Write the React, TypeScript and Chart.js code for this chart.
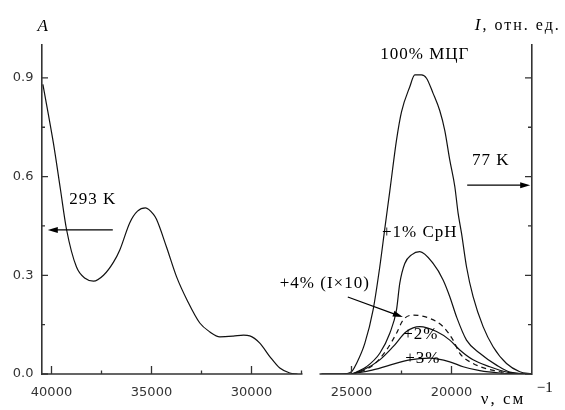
import React, { useEffect, useRef } from 'react';
import { Chart, registerables } from 'chart.js';

Chart.register(...registerables);

// ---- data (x: wavenumber, cm^-1; y: A or I) ----
const ABS_X = [40430, 39900, 39550, 39250, 38750, 38300, 37900, 37400, 36900, 36585, 36085, 35700, 35300, 34900, 34750, 34250, 33750, 33200, 32585, 32085, 31585, 30915, 30400, 30085, 29585, 29085, 28585, 28085, 27700];
const ABS_Y = [0.880, 0.700, 0.560, 0.440, 0.325, 0.290, 0.282, 0.300, 0.340, 0.377, 0.460, 0.495, 0.505, 0.485, 0.470, 0.386, 0.296, 0.222, 0.155, 0.128, 0.113, 0.115, 0.118, 0.116, 0.094, 0.053, 0.018, 0.003, 0.0];

const E100_X = [26500, 25500, 25000, 24750, 24335, 23920, 23585, 23335, 23085, 22750, 22500, 22085, 21835, 21500, 21250, 20920, 20585, 20335, 20085, 19835, 19670, 19500, 19250, 18920, 18420, 17920, 17250, 16585, 16000];
const E100_Y = [0, 0, 0.007, 0.032, 0.093, 0.195, 0.326, 0.442, 0.556, 0.711, 0.797, 0.873, 0.909, 0.909, 0.899, 0.853, 0.800, 0.740, 0.650, 0.570, 0.489, 0.428, 0.326, 0.235, 0.144, 0.083, 0.032, 0.007, 0];

const E1_X = [26500, 25000, 24750, 24250, 23585, 23085, 22750, 22585, 22335, 22000, 21585, 20920, 20420, 20085, 19750, 19250, 18585, 17750, 17085, 16000];
const E1_Y = [0, 0, 0.006, 0.022, 0.063, 0.124, 0.195, 0.276, 0.336, 0.362, 0.372, 0.336, 0.286, 0.235, 0.174, 0.103, 0.063, 0.027, 0.006, 0];

const E4_X = [25000, 24585, 23920, 23250, 22750, 22420, 21920, 21085, 20420, 19920, 19585, 18920, 17750, 16500];
const E4_Y = [0, 0.006, 0.027, 0.073, 0.124, 0.164, 0.179, 0.169, 0.144, 0.103, 0.063, 0.032, 0.009, 0];

const E2_X = [25000, 24420, 23585, 22920, 22250, 21585, 20750, 20085, 19585, 18920, 18085, 17250, 16300];
const E2_Y = [0, 0.012, 0.043, 0.083, 0.129, 0.144, 0.129, 0.103, 0.073, 0.043, 0.022, 0.006, 0];

const E3_X = [25000, 24750, 24085, 23085, 22085, 21085, 20085, 19420, 18585, 17585, 16300];
const E3_Y = [0, 0.003, 0.010, 0.027, 0.043, 0.048, 0.037, 0.022, 0.010, 0.003, 0];

// axis ranges / ticks
const X_MIN = 16000;
const X_MAX = 40500;
const X_TICKS = [40000, 37500, 35000, 32500, 30000, 27500, 25000, 22500, 20000, 17500];
const X_LABELS = [40000, 35000, 30000, 25000, 20000];
const Y_MIN = 0;
const Y_MAX = 1.0;
const Y_TICKS = [0, 0.15, 0.3, 0.45, 0.6, 0.75, 0.9];
const Y_LABELS = [0, 0.3, 0.6, 0.9];
const X_AXIS_GAP = [27450, 26600];

// annotations in data coordinates
const TEXTS = [
  { text: '100% МЦГ', x: 21335, y: 0.970 },
  { text: '77 K', x: 18035, y: 0.650 },
  { text: '293 K', x: 37935, y: 0.529 },
  { text: '+1% СрН', x: 21585, y: 0.429 },
  { text: '+4% (I×10)', x: 26335, y: 0.274 },
  { text: '+2%', x: 21535, y: 0.119 },
  { text: '+3%', x: 21435, y: 0.046 },
];
const ARROWS = [
  { x1: 19215, y1: 0.574, x2: 16065, y2: 0.574 },
  { x1: 36935, y1: 0.438, x2: 40185, y2: 0.438 },
  { x1: 25185, y1: 0.234, x2: 22435, y2: 0.173 },
];

const pts = (xs: number[], ys: number[]) => xs.map((x, i) => ({ x, y: ys[i] }));
const inList = (v: number, list: number[]) => list.some((l) => Math.abs(l - v) < 1e-6);

const SERIF = '"Liberation Serif", "Times New Roman", serif';
const SANS = '"DejaVu Sans", sans-serif';
const AXIS_COLOR = '#333';
const LINE_COLOR = '#111';

const overlay = {
  id: 'overlay',
  afterDraw(chart: any) {
    const ctx = chart.ctx as CanvasRenderingContext2D;
    const xs = chart.scales.x;
    const ys = chart.scales.y;
    const ca = chart.chartArea;
    ctx.save();

    // x axis line (with the small break)
    ctx.strokeStyle = AXIS_COLOR;
    ctx.lineWidth = 1.6;
    ctx.beginPath();
    ctx.moveTo(ca.left, ca.bottom);
    ctx.lineTo(xs.getPixelForValue(X_AXIS_GAP[0]), ca.bottom);
    ctx.moveTo(xs.getPixelForValue(X_AXIS_GAP[1]), ca.bottom);
    ctx.lineTo(ca.right, ca.bottom);
    ctx.stroke();

    // inward tick marks
    ctx.lineWidth = 1.3;
    ctx.beginPath();
    for (const t of xs.ticks) {
      const px = xs.getPixelForValue(t.value);
      const len = inList(t.value, X_LABELS) ? 8 : 3.5;
      ctx.moveTo(px, ca.bottom);
      ctx.lineTo(px, ca.bottom - len);
    }
    for (const t of ys.ticks) {
      const py = ys.getPixelForValue(t.value);
      const len = inList(t.value, Y_LABELS) ? 6.5 : 3.5;
      ctx.moveTo(ca.left, py);
      ctx.lineTo(ca.left + len, py);
      ctx.moveTo(ca.right, py);
      ctx.lineTo(ca.right - len, py);
    }
    ctx.stroke();

    // annotation texts
    ctx.fillStyle = '#000';
    ctx.textAlign = 'center';
    ctx.textBaseline = 'middle';
    ctx.font = `17px ${SERIF}`;
    (ctx as any).letterSpacing = '1px';
    for (const t of TEXTS) {
      ctx.fillText(t.text, xs.getPixelForValue(t.x), ys.getPixelForValue(t.y));
    }

    // arrows
    ctx.strokeStyle = '#000';
    ctx.lineWidth = 1.2;
    for (const a of ARROWS) {
      const x1 = xs.getPixelForValue(a.x1), y1 = ys.getPixelForValue(a.y1);
      const x2 = xs.getPixelForValue(a.x2), y2 = ys.getPixelForValue(a.y2);
      const ang = Math.atan2(y2 - y1, x2 - x1);
      const hl = 10, hw = 3;
      ctx.beginPath();
      ctx.moveTo(x1, y1);
      ctx.lineTo(x2 - Math.cos(ang) * hl * 0.8, y2 - Math.sin(ang) * hl * 0.8);
      ctx.stroke();
      ctx.beginPath();
      ctx.moveTo(x2, y2);
      ctx.lineTo(x2 - Math.cos(ang) * hl - Math.sin(ang) * hw, y2 - Math.sin(ang) * hl + Math.cos(ang) * hw);
      ctx.lineTo(x2 - Math.cos(ang) * hl + Math.sin(ang) * hw, y2 - Math.sin(ang) * hl - Math.cos(ang) * hw);
      ctx.closePath();
      ctx.fill();
    }

    // axis titles
    ctx.textBaseline = 'middle';
    ctx.textAlign = 'center';
    (ctx as any).letterSpacing = '0px';
    ctx.font = `italic 17px ${SERIF}`;
    ctx.fillText('A', xs.getPixelForValue(40435), ys.getPixelForValue(1.055));

    ctx.textAlign = 'left';
    let x0 = xs.getPixelForValue(18835);
    const yI = ys.getPixelForValue(1.058);
    ctx.font = `italic 17px ${SERIF}`;
    (ctx as any).letterSpacing = '2px';
    ctx.fillText('I', x0, yI);
    x0 += ctx.measureText('I').width;
    ctx.font = `16px ${SERIF}`;
    ctx.fillText(', отн. ед.', x0, yI);

    const xn = xs.getPixelForValue(18535);
    const yn = ys.getPixelForValue(-0.079);
    (ctx as any).letterSpacing = '2px';
    ctx.font = `17px ${SERIF}`;
    ctx.fillText('ν, см', xn, yn);
    (ctx as any).letterSpacing = '0px';
    ctx.font = `15px ${SERIF}`;
    ctx.fillText('−1', xs.getPixelForValue(15735), ys.getPixelForValue(-0.043));

    ctx.restore();
  },
};

export default function App() {
  const ref = useRef<HTMLCanvasElement | null>(null);

  useEffect(() => {
    if (!ref.current) return;
    const lineDs = (data: any[], dash: number[] = []) => ({
      data,
      borderColor: LINE_COLOR,
      borderWidth: 1.2,
      borderDash: dash,
      pointRadius: 0,
      fill: false,
      cubicInterpolationMode: 'monotone' as const,
    });
    const chart = new Chart(ref.current, {
      type: 'line',
      data: {
        datasets: [
          lineDs(pts(ABS_X, ABS_Y)),
          lineDs(pts(E100_X, E100_Y)),
          lineDs(pts(E1_X, E1_Y)),
          lineDs(pts(E4_X, E4_Y), [5, 4]),
          lineDs(pts(E2_X, E2_Y)),
          lineDs(pts(E3_X, E3_Y)),
        ],
      },
      options: {
        responsive: false,
        animation: false,
        parsing: false as any,
        layout: { padding: { top: 45, left: 0, right: 0, bottom: 0 } },
        plugins: { legend: { display: false }, tooltip: { enabled: false } },
        scales: {
          x: {
            type: 'linear',
            min: X_MIN,
            max: X_MAX,
            reverse: true,
            position: 'bottom',
            grid: { display: false, drawTicks: false },
            border: { display: false },
            afterBuildTicks: (s: any) => { s.ticks = X_TICKS.map((value) => ({ value })); },
            ticks: {
              autoSkip: false,
              maxRotation: 0,
              padding: 11,
              color: AXIS_COLOR,
              font: { family: SANS, size: 13 },
              callback: (v: any) => (inList(Number(v), X_LABELS) ? String(v) : ''),
            },
            afterFit: (s: any) => { s.height = 36; },
          },
          y: {
            type: 'linear',
            min: Y_MIN,
            max: Y_MAX,
            position: 'left',
            grid: { display: false, drawTicks: false },
            border: { display: true, color: AXIS_COLOR, width: 1.6 },
            afterBuildTicks: (s: any) => { s.ticks = Y_TICKS.map((value) => ({ value })); },
            ticks: {
              autoSkip: false,
              padding: 8,
              color: AXIS_COLOR,
              font: { family: SANS, size: 13 },
              callback: (v: any) => (inList(Number(v), Y_LABELS) ? Number(v).toFixed(1) : ''),
            },
            afterFit: (s: any) => { s.width = 41.5; },
          },
          y2: {
            type: 'linear',
            min: Y_MIN,
            max: Y_MAX,
            position: 'right',
            grid: { display: false, drawTicks: false },
            border: { display: true, color: AXIS_COLOR, width: 1.6 },
            afterBuildTicks: (s: any) => { s.ticks = Y_TICKS.map((value) => ({ value })); },
            ticks: { autoSkip: false, callback: () => '' },
            afterFit: (s: any) => { s.width = 33.5; },
          },
        },
      },
      plugins: [overlay],
    });
    return () => chart.destroy();
  }, []);

  return (
    <canvas
      ref={ref}
      width={565}
      height={410}
      style={{ position: 'absolute', left: 0, top: 0, width: 565, height: 410, display: 'block', background: '#fff' }}
    />
  );
}
